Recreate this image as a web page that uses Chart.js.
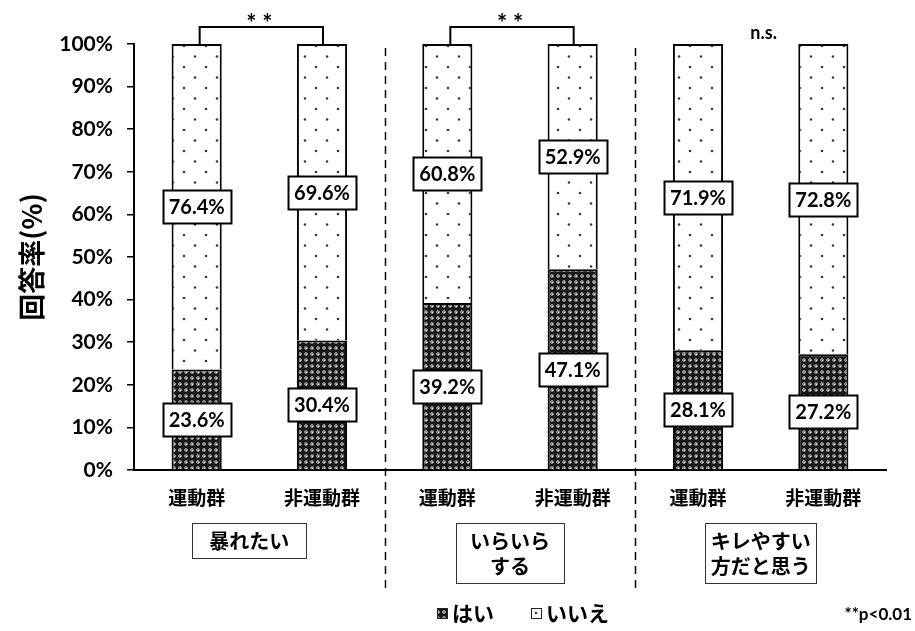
<!DOCTYPE html>
<html>
<head>
<meta charset="utf-8">
<script src="https://cdn.jsdelivr.net/npm/chart.js@4/dist/chart.umd.min.js"></script>
<style>
  html, body { margin: 0; padding: 0; background: #fff; }
  #c { display: block; }
</style>
</head>
<body>
<canvas id="c" width="915" height="631"></canvas>
<script>
// Response categories (bars) and the question each pair belongs to
const categories = ['運動群', '非運動群', '運動群', '非運動群', '運動群', '非運動群'];
const questions = [['暴れたい'], ['いらいら', 'する'], ['キレやすい', '方だと思う']];

// Series values (%)
const yesValues = [23.6, 30.4, 39.2, 47.1, 28.1, 27.2];
const noValues  = [76.4, 69.6, 60.8, 52.9, 71.9, 72.8];
const seriesNames = ['はい', 'いいえ'];

// Significance marks per question pair, and the footnote
const significance = ['* *', '* *', 'n.s.'];
const footnote = '**p<0.01';
const axisTitle = '回答率(%)';

const FONT = "Lato, 'Noto Sans CJK JP', sans-serif";
const CJK = "'Noto Sans CJK JP', Lato, sans-serif";

// Dark cross-hatched fill for "はい"
function yesPattern() {
  const t = document.createElement('canvas');
  t.width = 6; t.height = 6;
  const g = t.getContext('2d');
  g.fillStyle = '#8a8a8a';
  g.fillRect(0, 0, 6, 6);
  g.fillStyle = '#111';
  g.fillRect(2, 0, 2, 6);
  g.fillRect(0, 2, 6, 2);
  g.fillStyle = '#1a1a1a';
  g.fillRect(1, 1, 4, 4);
  g.fillStyle = '#e0e0e0';
  g.fillRect(0, 0, 1, 1);
  return g.createPattern(t, 'repeat');
}

// Sparse dotted fill for "いいえ"
function noPattern() {
  const t = document.createElement('canvas');
  t.width = 22; t.height = 21;
  const g = t.getContext('2d');
  g.fillStyle = '#fff';
  g.fillRect(0, 0, 22, 21);
  g.fillStyle = '#3a3a3a';
  g.beginPath(); g.arc(8, 4, 1.3, 0, Math.PI * 2); g.fill();
  g.beginPath(); g.arc(19, 14.5, 1.3, 0, Math.PI * 2); g.fill();
  return g.createPattern(t, 'repeat');
}

const fills = [yesPattern(), noPattern()];

// Value boxes centred on each stacked segment, plus brackets, separators,
// question boxes, legend and footnote
const decorations = {
  id: 'decorations',
  afterDatasetsDraw(chart) {
    const ctx = chart.ctx;
    const area = chart.chartArea;
    const xs = chart.scales.x;
    ctx.save();

    // value labels
    ctx.font = `bold 20px ${FONT}`;
    ctx.textAlign = 'center';
    ctx.textBaseline = 'middle';
    chart.data.datasets.forEach((ds, di) => {
      const meta = chart.getDatasetMeta(di);
      meta.data.forEach((el, i) => {
        const txt = ds.data[i].toFixed(1) + '%';
        const cy = (el.y + el.base) / 2;
        const w = Math.round(ctx.measureText(txt).width + 12);
        const h = 33;
        const bx = Math.round(el.x - w / 2) + 0.5;
        const by = Math.round(cy - h / 2) + 0.5;
        ctx.fillStyle = '#fff';
        ctx.fillRect(bx, by, w, h);
        ctx.lineWidth = 2;
        ctx.strokeStyle = '#000';
        ctx.strokeRect(bx, by, w, h);
        ctx.fillStyle = '#000';
        ctx.fillText(txt, el.x, cy + 1);
      });
    });

    // dashed separators between question pairs
    ctx.setLineDash([8, 6]);
    ctx.lineWidth = 1.5;
    ctx.strokeStyle = '#000';
    for (let k = 1; k < questions.length; k++) {
      const sx = Math.round((xs.getPixelForValue(2 * k - 1) + xs.getPixelForValue(2 * k)) / 2) + 0.5;
      ctx.beginPath();
      ctx.moveTo(sx, area.top + 4);
      ctx.lineTo(sx, 592);
      ctx.stroke();
    }
    ctx.setLineDash([]);

    // significance brackets and question boxes
    const boxW = [114, 108, 111];
    const boxShift = [-10, 0, 0];
    questions.forEach((q, k) => {
      const x1 = xs.getPixelForValue(2 * k);
      const x2 = xs.getPixelForValue(2 * k + 1);
      const mid = (x1 + x2) / 2;
      ctx.fillStyle = '#000';
      ctx.textAlign = 'center';
      if (significance[k] === 'n.s.') {
        ctx.textBaseline = 'middle';
        ctx.font = `bold 18px ${FONT}`;
        ctx.fillText(significance[k], mid + 3, 33);
      } else {
        ctx.lineWidth = 2;
        ctx.strokeStyle = '#000';
        ctx.beginPath();
        ctx.moveTo(x1 + 3, area.top);
        ctx.lineTo(x1 + 3, 27);
        ctx.lineTo(x2 + 1, 27);
        ctx.lineTo(x2 + 1, area.top);
        ctx.stroke();
        ctx.textBaseline = 'alphabetic';
        ctx.font = `bold 24px ${FONT}`;
        ctx.fillText(significance[k], mid, 32);
      }

      // question box under the pair
      const lineH = 25;
      const h = q.length * lineH + 10;
      const bx = mid + boxShift[k] - boxW[k] / 2;
      const by = 523;
      ctx.lineWidth = 1;
      ctx.strokeStyle = '#333';
      ctx.strokeRect(Math.round(bx) + 0.5, by + 0.5, boxW[k], h);
      ctx.textBaseline = 'middle';
      ctx.font = `bold 20px ${CJK}`;
      q.forEach((line, j) => {
        ctx.fillText(line, mid + boxShift[k], by + 5 + lineH / 2 + j * lineH + 1);
      });
    });

    // legend
    ctx.font = `bold 21px ${CJK}`;
    ctx.textAlign = 'left';
    ctx.textBaseline = 'middle';
    const legendX = [437, 531];
    const ly = 613;
    chart.data.datasets.forEach((ds, di) => {
      const x = legendX[di];
      ctx.fillStyle = fills[di];
      ctx.fillRect(x, ly - 5, 11, 11);
      ctx.lineWidth = 1;
      ctx.strokeStyle = '#222';
      ctx.strokeRect(x + 0.5, ly - 4.5, 10, 10);
      ctx.fillStyle = '#000';
      ctx.fillText(ds.label, x + 15, ly);
    });

    // footnote
    ctx.font = `bold 17px ${FONT}`;
    ctx.textAlign = 'right';
    ctx.fillText(footnote, 912, 615);

    ctx.restore();
  }
};

new Chart(document.getElementById('c'), {
  type: 'bar',
  data: {
    labels: categories,
    datasets: [
      {
        label: seriesNames[0], data: yesValues, backgroundColor: fills[0],
        borderColor: '#000', borderWidth: 2, barPercentage: 0.4, categoryPercentage: 1
      },
      {
        label: seriesNames[1], data: noValues, backgroundColor: fills[1],
        borderColor: '#000', borderWidth: 2, barPercentage: 0.4, categoryPercentage: 1
      }
    ]
  },
  options: {
    responsive: false,
    animation: false,
    devicePixelRatio: 1,
    layout: { padding: { top: 44, right: 29, left: 0, bottom: 0 } },
    plugins: { legend: { display: false }, tooltip: { enabled: false } },
    scales: {
      x: {
        stacked: true,
        grid: { display: false, drawTicks: false },
        border: { display: true, color: '#000', width: 2 },
        ticks: { color: '#000', padding: 16, font: { family: CJK, size: 19, weight: 'bold' } },
        afterFit(scale) { scale.height = 161; }
      },
      y: {
        stacked: true,
        min: 0, max: 100,
        ticks: {
          stepSize: 10, color: '#000', padding: 14,
          font: { family: FONT, size: 21, weight: 'bold' },
          callback: v => v + '%'
        },
        grid: { drawOnChartArea: false, drawTicks: true, tickLength: 7, color: '#000', lineWidth: 1.5 },
        border: { display: true, color: '#000', width: 2 },
        title: {
          display: true, text: axisTitle, color: '#000',
          font: { family: CJK, size: 27, weight: 'bold' },
          padding: { top: 16, bottom: 0 }
        },
        afterFit(scale) { scale.width = 134; }
      }
    }
  },
  plugins: [decorations]
});
</script>
</body>
</html>
